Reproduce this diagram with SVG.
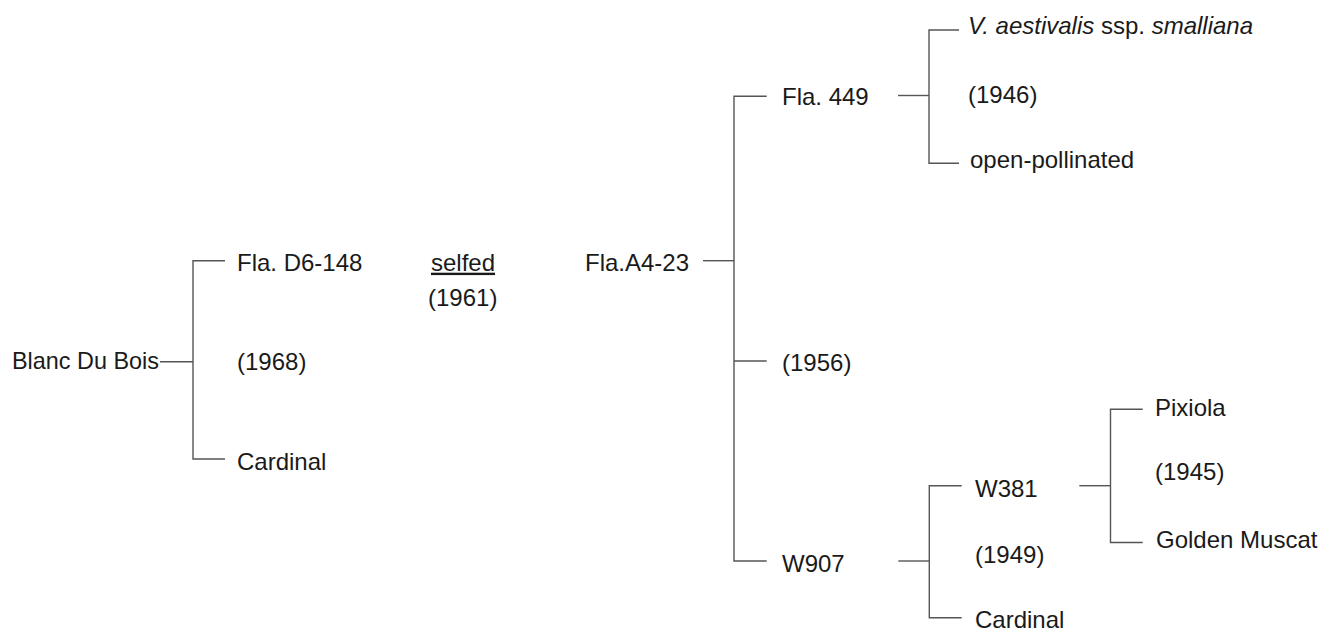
<svg xmlns="http://www.w3.org/2000/svg" width="1338" height="633" viewBox="0 0 1338 633">
<style>
text{font-family:"Liberation Sans",Arial,sans-serif;font-size:24px;fill:#1a1a1a}
.i{font-style:italic}
.c{fill:none;stroke:#555;stroke-width:1.4}
</style>
<rect width="1338" height="633" fill="#fff"/>
<g id="connectors">
<path class="c" d="M160,361.7H193"/>
<path class="c" d="M225,260.7H193V459H225"/>
<path class="c" d="M703,260.7H734"/>
<path class="c" d="M766.7,96.3H734V561H766.7"/>
<path class="c" d="M734,361H766.7"/>
<path class="c" d="M898,95.5H929"/>
<path class="c" d="M959,30H929V163.3H959"/>
<path class="c" d="M898.3,561H929.3"/>
<path class="c" d="M961.7,485.7H929.3V617.7H961.7"/>
<path class="c" d="M1079.3,485.7H1110.5"/>
<path class="c" d="M1142.7,409.3H1110.5V542.5H1142.7"/>
</g>
<g id="blanc-du-bois"><text x="12" y="369" style="font-size:23.4px">Blanc Du Bois</text></g>
<g id="fla-d6-148"><text x="237" y="270.7">Fla. D6-148</text></g>
<g id="year-1968"><text x="237" y="370">(1968)</text></g>
<g id="cardinal-1"><text x="237" y="470">Cardinal</text></g>
<g id="selfed"><text x="431" y="270.7" text-decoration="underline">selfed</text><text x="428" y="306">(1961)</text></g>
<g id="fla-a4-23"><text x="585" y="270.7">Fla.A4-23</text></g>
<g id="fla-449"><text x="782" y="105">Fla. 449</text></g>
<g id="year-1956"><text x="782" y="371">(1956)</text></g>
<g id="w907"><text x="782" y="571.7">W907</text></g>
<g id="v-aestivalis"><text x="968" y="34"><tspan class="i">V. aestivalis</tspan> ssp. <tspan class="i">smalliana</tspan></text></g>
<g id="year-1946"><text x="968" y="103">(1946)</text></g>
<g id="open-pollinated"><text x="970" y="168">open-pollinated</text></g>
<g id="w381"><text x="975" y="496.7">W381</text></g>
<g id="year-1949"><text x="975" y="563">(1949)</text></g>
<g id="cardinal-2"><text x="975" y="628">Cardinal</text></g>
<g id="pixiola"><text x="1155" y="415.7">Pixiola</text></g>
<g id="year-1945"><text x="1155" y="480">(1945)</text></g>
<g id="golden-muscat"><text x="1156" y="548.3">Golden Muscat</text></g>
</svg>
